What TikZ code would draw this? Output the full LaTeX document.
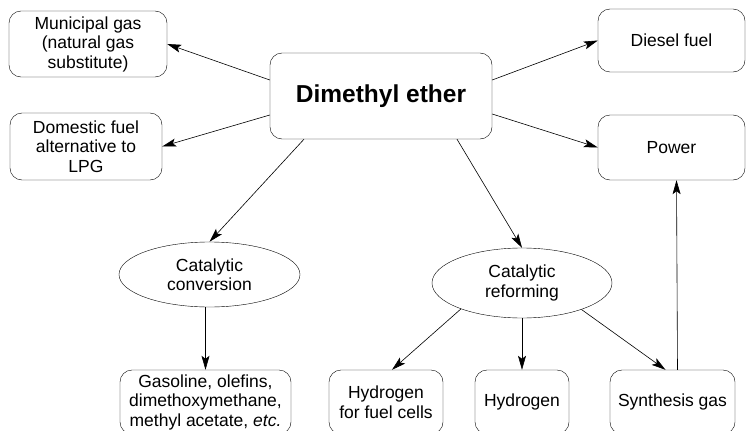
\documentclass[tikz,border=0pt]{standalone}
\usepackage{fontspec}
\setmainfont{Liberation Sans}
\usetikzlibrary{arrows.meta,shapes.geometric}
\tikzset{
    rounded-box/.style = {draw, thin, rectangle, rounded corners=12pt, align=center, inner sep=2pt, font=\fontsize{17.5}{19.5}\selectfont},
    oval-box/.style = {draw, thin, ellipse, align=center, inner sep=1pt, font=\fontsize{17.5}{19.5}\selectfont},
    title-box/.style = {rounded-box, font=\fontsize{24.5}{28}\selectfont\bfseries},
    link/.style = {line width=0.6pt, -{Stealth[length=14pt,width=8pt,inset=3pt]}},
}

\begin{document}
\begin{tikzpicture}[x=1pt, y=-1pt]
\useasboundingbox (0,0) rectangle (747,431);

\node[title-box, minimum width=222pt, minimum height=86pt] (dme) at (381,96) {Dimethyl ether};

\node[rounded-box, minimum width=158pt, minimum height=66pt] (municipal) at (88,44) {Municipal gas\\(natural gas\\substitute)};
\node[rounded-box, minimum width=152pt, minimum height=67pt] (domestic) at (86,146.5) {Domestic fuel\\alternative to\\LPG};
\node[rounded-box, minimum width=147pt, minimum height=63pt] (diesel) at (671.5,40.5) {Diesel fuel};
\node[rounded-box, minimum width=147pt, minimum height=65pt] (power) at (671.5,147.5) {Power};

\node[oval-box, minimum width=181pt, minimum height=65pt] (conversion) at (209.5,274.5) {Catalytic\\conversion};
\node[oval-box, minimum width=180pt, minimum height=70pt] (reforming) at (522,283) {Catalytic\\reforming};

\node[rounded-box, minimum width=171pt, minimum height=64pt] (gasoline) at (205.5,402) {Gasoline, olefins,\\dimethoxymethane,\\methyl acetate, \emph{etc.}};
\node[rounded-box, minimum width=114pt, minimum height=64pt] (fuelcell) at (386,402) {Hydrogen\\for fuel cells};
\node[rounded-box, minimum width=94pt, minimum height=64pt] (hydrogen) at (522,402) {Hydrogen};
\node[rounded-box, minimum width=125pt, minimum height=64pt] (syngas) at (672.5,402) {Synthesis gas};

% uses of DME
\draw[link] ([yshift=16pt]dme.west) -- (municipal.east);
\draw[link] ([yshift=-19pt]dme.west) -- (domestic.east);
\draw[link] ([yshift=16pt]dme.east) -- (diesel.west);
\draw[link] ([yshift=-18pt]dme.east) -- (power.west);
\draw[link] ([xshift=-77pt]dme.south) -- (conversion.north);
\draw[link] ([xshift=76pt]dme.south) -- (reforming.north);

% products
\draw[link] (conversion.south -| gasoline.north) -- (gasoline.north);
\draw[link] (reforming.203) -- ([xshift=6pt]fuelcell.north);
\draw[link] (reforming.south) -- (hydrogen.north);
\draw[link] (reforming.-24) -- ([xshift=-7pt]syngas.north);
\draw[link] ([xshift=5pt]syngas.north) -- ([xshift=5pt]power.south);
\end{tikzpicture}
\end{document}
